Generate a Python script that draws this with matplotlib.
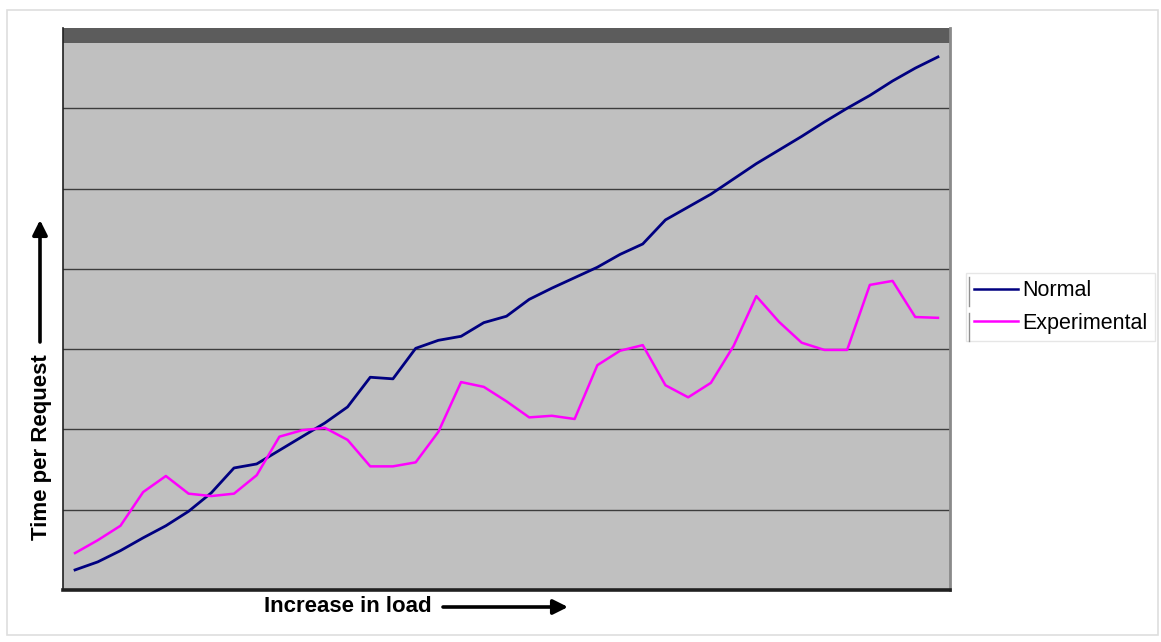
import matplotlib
matplotlib.use("Agg")
import matplotlib.pyplot as plt
from matplotlib.patches import Rectangle
from matplotlib.lines import Line2D

# ---- data ----
load_steps = list(range(39))
normal = [0.25, 0.35, 0.49, 0.65, 0.80, 0.98, 1.21, 1.52, 1.57, 1.74,
          1.91, 2.08, 2.28, 2.65, 2.63, 3.01, 3.11, 3.16, 3.33, 3.41,
          3.62, 3.76, 3.89, 4.02, 4.18, 4.31, 4.61, 4.77, 4.93, 5.12,
          5.31, 5.48, 5.65, 5.83, 6.00, 6.16, 6.34, 6.50, 6.64]
experimental = [0.46, 0.62, 0.80, 1.22, 1.42, 1.20, 1.17, 1.20, 1.43, 1.91,
                1.99, 2.02, 1.87, 1.54, 1.54, 1.59, 1.97, 2.59, 2.53, 2.35,
                2.15, 2.17, 2.13, 2.80, 2.98, 3.05, 2.55, 2.40, 2.58, 3.04,
                3.66, 3.34, 3.08, 2.99, 2.99, 3.80, 3.85, 3.40, 3.39]
series_names = ["Normal", "Experimental"]
y_ticks = list(range(0, 8))

W, H = 1161, 642
fig = plt.figure(figsize=(W / 100, H / 100), dpi=100)
fig.patch.set_facecolor("white")

# faint outer frame
fig.add_artist(Rectangle((7 / W, 7 / H), 1151 / W, 625 / H, transform=fig.transFigure,
                         fill=False, edgecolor="#dedede", lw=1.2))

ax = fig.add_axes([63 / W, (H - 590) / H, 887 / W, 562 / H])
ax.set_facecolor("#c0c0c0")

ax.plot(load_steps, normal, color="#000080", lw=2.0, label=series_names[0], zorder=3)
ax.plot(load_steps, experimental, color="#ff00ff", lw=1.8, label=series_names[1], zorder=3)

ax.set_xlim(-0.53, 38.53)
ax.set_ylim(y_ticks[0], y_ticks[-1])
ax.set_yticks(y_ticks)
ax.set_xticks([])
ax.tick_params(left=False, labelleft=False, bottom=False, labelbottom=False)
ax.grid(axis="y", color="#3c3c3c", lw=1.0, zorder=1)
ax.set_axisbelow(True)

# dark band at top of plot area
ax.axhspan(y_ticks[-1] - 0.19, y_ticks[-1], color="#5c5c5c", zorder=2, lw=0)

ax.spines["left"].set_color("#202020")
ax.spines["left"].set_linewidth(1.2)
ax.spines["bottom"].set_color("#202020")
ax.spines["bottom"].set_linewidth(2.6)
ax.spines["right"].set_color("#8a8a8a")
ax.spines["right"].set_linewidth(2.0)
ax.spines["top"].set_visible(False)

# axis titles with arrows
fig.text(348 / W, (H - 606) / H, "Increase in load", ha="center", va="center",
         fontsize=16, fontweight="bold", family=["Liberation Sans", "DejaVu Sans"])
fig.text(41 / W, (H - 447) / H, "Time per Request", ha="center", va="center",
         rotation=90, fontsize=16, fontweight="bold", family=["Liberation Sans", "DejaVu Sans"])

ax.annotate("", xy=(568, H - 607), xytext=(443, H - 607), xycoords="figure pixels",
            textcoords="figure pixels",
            arrowprops=dict(arrowstyle="-|>", color="black", lw=2.6, mutation_scale=22,
                            shrinkA=0, shrinkB=0))
ax.annotate("", xy=(40, H - 220), xytext=(40, H - 342), xycoords="figure pixels",
            textcoords="figure pixels",
            arrowprops=dict(arrowstyle="-|>", color="black", lw=2.6, mutation_scale=22,
                            shrinkA=0, shrinkB=0))

leg = ax.legend(loc="center left", bbox_to_anchor=(966 / W, (H - 307) / H),
                bbox_transform=fig.transFigure, frameon=True, fancybox=False,
                prop={"family": ["Liberation Sans", "DejaVu Sans"], "size": 15.5},
                handlelength=2.05, handletextpad=0.2, labelspacing=0.55,
                borderpad=0.35, borderaxespad=0)
leg.get_frame().set_edgecolor("#e0e0e0")
leg.get_frame().set_linewidth(1.0)
for line in leg.get_lines():
    line.set_linewidth(1.8)

# small grey markers at the left of the legend entries
for y0, y1 in [(277, 306), (313, 341)]:
    fig.add_artist(Line2D([969 / W, 969 / W], [(H - y0) / H, (H - y1) / H],
                          transform=fig.transFigure, color="#909090", lw=1.0))

fig.savefig("out.png", dpi=100, facecolor="white")
